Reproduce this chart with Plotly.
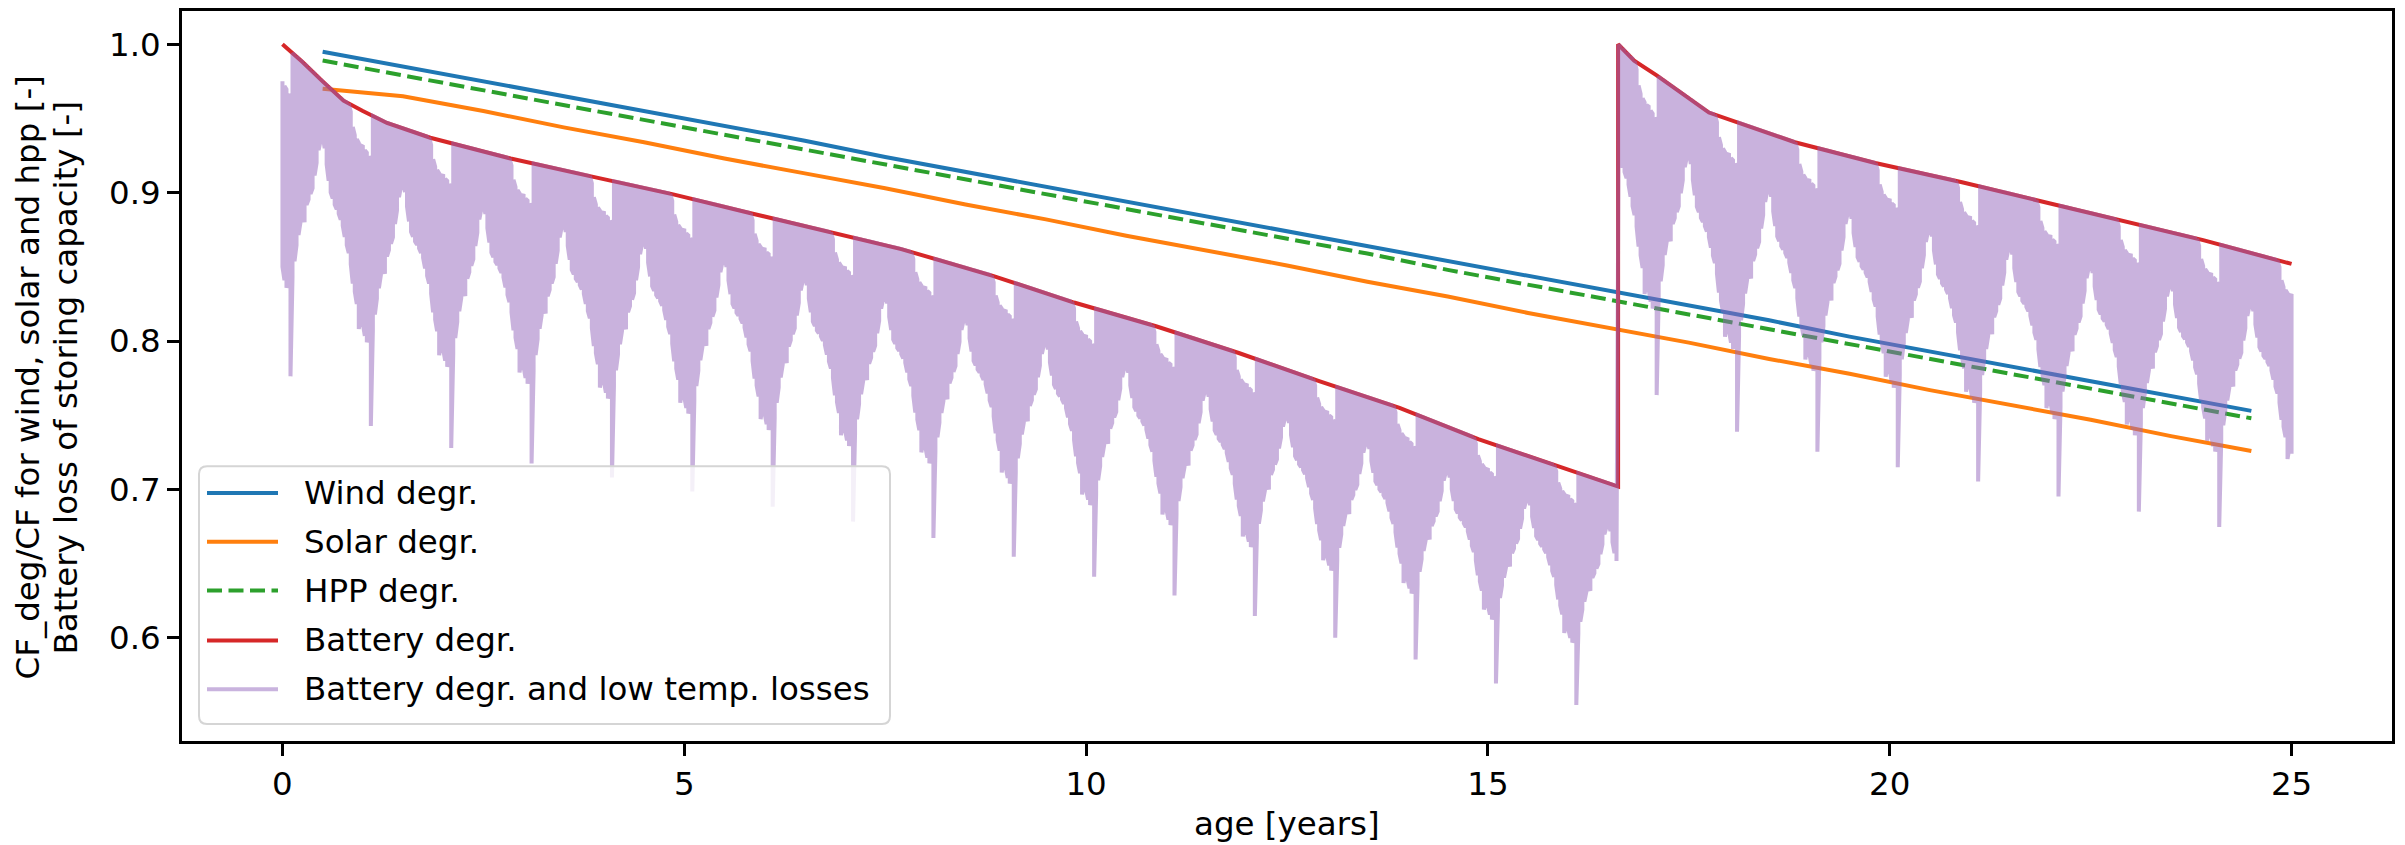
import numpy as np
import plotly.graph_objects as go

# ---------------------------------------------------------------------------
# Data
# ---------------------------------------------------------------------------
# Yearly capacity-factor degradation (mid-year ages)
line_age = [0.5, 1.5, 2.5, 3.5, 4.5, 5.5, 6.5, 7.5, 8.5, 9.5, 10.5, 11.5, 12.5,
            13.5, 14.5, 15.5, 16.5, 17.5, 18.5, 19.5, 20.5, 21.5, 22.5, 23.5, 24.5]
wind_degr = [0.995, 0.985, 0.975, 0.965, 0.955, 0.945, 0.935, 0.924, 0.914, 0.904,
             0.894, 0.884, 0.874, 0.864, 0.854, 0.844, 0.834, 0.824, 0.814, 0.803,
             0.793, 0.783, 0.773, 0.763, 0.753]
solar_degr = [0.970, 0.965, 0.955, 0.944, 0.934, 0.923, 0.913, 0.903, 0.892, 0.882,
              0.871, 0.861, 0.851, 0.840, 0.830, 0.819, 0.809, 0.799, 0.788, 0.778,
              0.767, 0.757, 0.747, 0.736, 0.726]
hpp_degr = [0.989, 0.979, 0.969, 0.959, 0.949, 0.939, 0.929, 0.919, 0.909, 0.899,
            0.889, 0.879, 0.869, 0.859, 0.848, 0.838, 0.828, 0.818, 0.808, 0.798,
            0.788, 0.778, 0.768, 0.758, 0.748]

# Battery state of health, first battery and replacement battery
battery_replacement_age = 16.62
batt1_age = [0.0, 0.25, 0.5, 0.76, 1.0, 1.3, 1.84, 2.84, 3.84, 4.85, 5.84, 6.85,
             7.7, 8.84, 9.85, 10.87, 11.9, 12.9, 13.9, 14.88, 15.9, 16.62]
batt1_soh = [1.000, 0.988, 0.975, 0.962, 0.955, 0.947, 0.937, 0.923, 0.911, 0.899,
             0.886, 0.873, 0.862, 0.844, 0.826, 0.810, 0.792, 0.773, 0.755, 0.734,
             0.715, 0.702]
batt2_age = [16.62, 16.82, 17.1, 17.75, 18.82, 19.82, 20.9, 21.9, 22.9, 23.9, 25.0]
batt2_soh = [1.000, 0.989, 0.979, 0.954, 0.934, 0.920, 0.907, 0.894, 0.881, 0.868,
             0.852]

# Low-temperature availability of the storing capacity over one calendar year
# (fraction of year, lowest and highest ratio within each step)
temp_frac = [0.000, 0.025, 0.050, 0.075, 0.100, 0.125, 0.150, 0.175, 0.200, 0.225,
             0.250, 0.275, 0.300, 0.325, 0.350, 0.375, 0.400, 0.425, 0.450, 0.475,
             0.500, 0.525, 0.550, 0.575, 0.600, 0.625, 0.650, 0.675, 0.700, 0.725,
             0.750, 0.775, 0.800, 0.825, 0.850, 0.875, 0.900, 0.925, 0.950, 0.975]
temp_low = [0.850, 0.842, 0.838, 0.845, 0.780, 0.848, 0.860, 0.872, 0.880, 0.890,
            0.898, 0.892, 0.905, 0.910, 0.915, 0.920, 0.930, 0.940, 0.950, 0.958,
            0.963, 0.955, 0.945, 0.935, 0.928, 0.925, 0.922, 0.920, 0.918, 0.915,
            0.912, 0.905, 0.900, 0.895, 0.888, 0.875, 0.870, 0.862, 0.845, 0.855]
temp_high = [0.975, 0.973, 0.972, 0.970, 0.968, 1.000, 1.000, 1.000, 1.000, 1.000,
             1.000, 1.000, 1.000, 1.000, 1.000, 1.000, 1.000, 1.000, 1.000, 1.000,
             1.000, 1.000, 1.000, 1.000, 1.000, 1.000, 1.000, 1.000, 1.000, 1.000,
             1.000, 1.000, 1.000, 1.000, 0.995, 0.985, 0.980, 0.978, 0.976, 0.975]
lifetime_years = 25

# ---------------------------------------------------------------------------
# Derived series
# ---------------------------------------------------------------------------
batt_age = batt1_age + batt2_age
batt_soh = batt1_soh + batt2_soh


def battery_soh(t):
    if t < battery_replacement_age:
        return float(np.interp(t, batt1_age, batt1_soh))
    return float(np.interp(t, batt2_age, batt2_soh))


# battery capacity including low temperature losses, drawn as a dense band
loss_x, loss_y = [], []
down = True
for year in range(lifetime_years + 1):
    for frac, lo, hi in zip(temp_frac, temp_low, temp_high):
        t = year + frac
        if t > lifetime_years:
            break
        soh = battery_soh(t)
        pair = [soh * hi, soh * lo] if down else [soh * lo, soh * hi]
        loss_x += [t, t]
        loss_y += pair
        down = not down

# ---------------------------------------------------------------------------
# Figure
# ---------------------------------------------------------------------------
W, H = 2405, 845
L, R, T, B = 182, 2392, 8, 741
FONT = "DejaVu Sans"
FS = 32.5
LW = 4

fig = go.Figure()
fig.add_trace(go.Scatter(x=line_age, y=wind_degr, mode="lines",
                         line=dict(color="#1f77b4", width=LW), name="Wind degr."))
fig.add_trace(go.Scatter(x=line_age, y=solar_degr, mode="lines",
                         line=dict(color="#ff7f0e", width=LW), name="Solar degr."))
fig.add_trace(go.Scatter(x=line_age, y=hpp_degr, mode="lines",
                         line=dict(color="#2ca02c", width=LW, dash="15px,6.5px"),
                         name="HPP degr."))
fig.add_trace(go.Scatter(x=batt_age, y=batt_soh, mode="lines",
                         line=dict(color="#d62728", width=LW), name="Battery degr."))
fig.add_trace(go.Scatter(x=loss_x, y=loss_y, mode="lines", opacity=0.5,
                         line=dict(color="#9467bd", width=LW),
                         name="Battery degr. and low temp. losses"))

y_ticks = [0.6, 0.7, 0.8, 0.9, 1.0]
x_ticks = [0, 5, 10, 15, 20, 25]

axis_common = dict(showline=True, linecolor="black", linewidth=2.5, mirror=True,
                   ticks="outside", ticklen=12, tickwidth=2.5, tickcolor="black",
                   showgrid=False, zeroline=False,
                   tickfont=dict(family=FONT, size=FS, color="black"))
fig.update_xaxes(range=[-1.25, 26.25], tickvals=x_ticks,
                 ticktext=[str(v) for v in x_ticks], **axis_common)
fig.update_yaxes(range=[0.5306, 1.0224], tickvals=y_ticks,
                 ticktext=[f"{v:.1f}" for v in y_ticks], **axis_common)


def px_x(p):
    return (p - L) / (R - L)


def px_y(p):
    return (B - p) / (B - T)


annotations = [
    dict(text="age [years]", x=px_x((L + R) / 2), y=px_y(824), xref="paper",
         yref="paper", showarrow=False, xanchor="center", yanchor="middle",
         font=dict(family=FONT, size=FS, color="black")),
    dict(text="CF_deg/CF for wind, solar and hpp [-]", x=px_x(28), y=px_y(376),
         xref="paper", yref="paper", showarrow=False, textangle=-90,
         xanchor="center", yanchor="middle",
         font=dict(family=FONT, size=FS, color="black")),
    dict(text="Battery loss of storing capacity [-]", x=px_x(66), y=px_y(376),
         xref="paper", yref="paper", showarrow=False, textangle=-90,
         xanchor="center", yanchor="middle",
         font=dict(family=FONT, size=FS, color="black")),
]

# legend frame with rounded corners
bx0, bx1, by0, by1, rr = 199, 890, 465, 724, 8
x0, x1 = px_x(bx0), px_x(bx1)
y0, y1 = px_y(by1), px_y(by0)
dx, dy = rr / (R - L), rr / (B - T)
frame_path = (f"M{x0 + dx},{y0} L{x1 - dx},{y0} Q{x1},{y0} {x1},{y0 + dy} "
              f"L{x1},{y1 - dy} Q{x1},{y1} {x1 - dx},{y1} L{x0 + dx},{y1} "
              f"Q{x0},{y1} {x0},{y1 - dy} L{x0},{y0 + dy} Q{x0},{y0} {x0 + dx},{y0} Z")
shapes = [dict(type="path", path=frame_path, xref="paper", yref="paper",
               fillcolor="rgba(255,255,255,0.8)",
               line=dict(color="#d5d5d5", width=2), layer="above")]

legend_rows = [
    ("Wind degr.", "#1f77b4", "solid"),
    ("Solar degr.", "#ff7f0e", "solid"),
    ("HPP degr.", "#2ca02c", "15px,6.5px"),
    ("Battery degr.", "#d62728", "solid"),
    ("Battery degr. and low temp. losses", "rgba(148,103,189,0.5)", "solid"),
]
row_y = [492, 541, 590, 640, 689]
for (label, color, dash), ry in zip(legend_rows, row_y):
    shapes.append(dict(type="line", xref="paper", yref="paper",
                       x0=px_x(207), x1=px_x(278), y0=px_y(ry), y1=px_y(ry),
                       line=dict(color=color, width=LW, dash=dash), layer="above"))
    annotations.append(dict(text=label, x=px_x(302), y=px_y(ry), xref="paper",
                            yref="paper", showarrow=False, xanchor="left",
                            yanchor="middle",
                            font=dict(family=FONT, size=FS, color="black")))

fig.update_layout(width=W, height=H, autosize=False,
                  margin=dict(l=L, r=W - R, t=T, b=H - B, pad=0),
                  paper_bgcolor="white", plot_bgcolor="white",
                  showlegend=False, annotations=annotations, shapes=shapes)

fig.write_html("out.html")
